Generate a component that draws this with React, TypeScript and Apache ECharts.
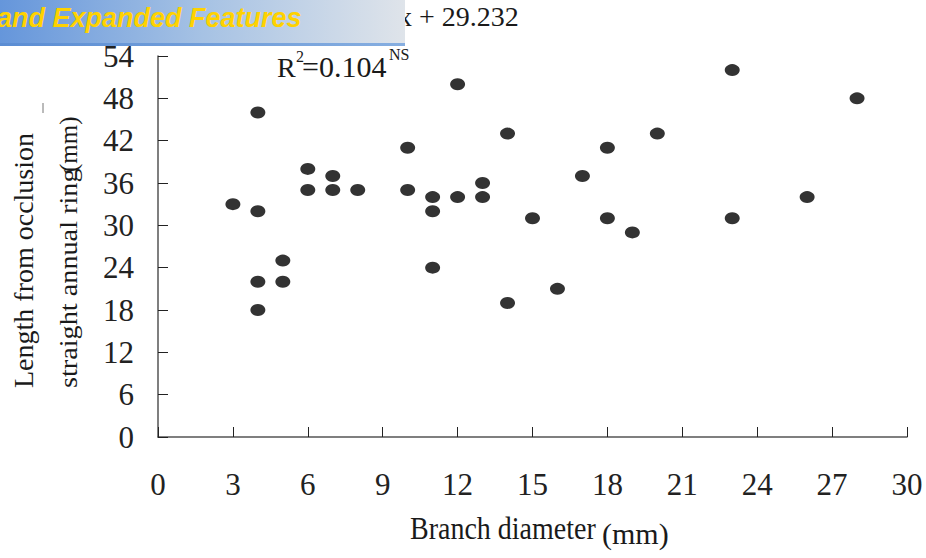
import React, { useEffect, useRef } from "react";
import * as echarts from "echarts";

const branchDiameter = [3, 4, 4, 4, 4, 5, 5, 6, 6, 7, 7, 8, 10, 10, 11, 11, 11, 12, 12, 13, 13, 14, 14, 15, 16, 17, 18, 18, 19, 20, 23, 23, 26, 28];
const occlusionLength = [33, 46, 32, 22, 18, 25, 22, 38, 35, 37, 35, 35, 41, 35, 34, 32, 24, 50, 34, 36, 34, 43, 19, 31, 21, 37, 41, 31, 29, 43, 52, 31, 34, 48];

const xTitle = "Branch diameter";
const unitText = "(mm)";
const yTitleLine1 = "Length from occlusion";
const yTitleLine2 = "straight annual ring";
const equationText = "x + 29.232";
const bannerText = "and Expanded Features";

const SERIF = "Liberation Serif";

function serifText(text: string, size: number, extra: Record<string, unknown> = {}) {
  return {
    text,
    fontFamily: SERIF,
    fontSize: size,
    fill: "#1a1a1a",
    textAlign: "left",
    textVerticalAlign: "bottom",
    ...extra,
  };
}

export default function App() {
  const ref = useRef<HTMLDivElement>(null);
  useEffect(() => {
    if (!ref.current) return;
    const chart = echarts.init(ref.current, null, { renderer: "svg" });
    const points = branchDiameter.map((x, i) => [x, occlusionLength[i]]);
    chart.setOption({
      animation: false,
      backgroundColor: "#ffffff",
      grid: { left: 158, top: 56, width: 749, height: 381 },
      xAxis: {
        type: "value",
        min: 0,
        max: 30,
        interval: 3,
        axisLine: { show: true, lineStyle: { color: "#555", width: 1.5 } },
        axisTick: { show: true, inside: true, length: 10, lineStyle: { color: "#222", width: 1 } },
        splitLine: { show: false },
        axisLabel: { margin: 32, fontFamily: SERIF, fontSize: 31, color: "#222" },
      },
      yAxis: {
        type: "value",
        min: 0,
        max: 54,
        interval: 6,
        axisLine: { show: true, lineStyle: { color: "#555", width: 1.5 } },
        axisTick: { show: true, inside: true, length: 10, lineStyle: { color: "#222", width: 1 } },
        splitLine: { show: false },
        axisLabel: { margin: 24, fontFamily: SERIF, fontSize: 31, color: "#222" },
      },
      series: [
        {
          type: "scatter",
          data: points,
          symbol: "circle",
          symbolSize: [15, 12],
          itemStyle: { color: "#000" },
        },
      ],
      graphic: [
        {
          type: "rect",
          z: 100,
          shape: { x: 0, y: 0, width: 405, height: 46 },
          style: {
            fill: new echarts.graphic.LinearGradient(0, 0, 1, 0, [
              { offset: 0, color: "#6596db" },
              { offset: 0.5, color: "#a6c2e4" },
              { offset: 1, color: "#dfe4ea" },
            ]),
          },
        },
        {
          type: "rect",
          z: 101,
          shape: { x: 0, y: 43, width: 405, height: 3 },
          style: {
            fill: new echarts.graphic.LinearGradient(0, 0, 1, 0, [
              { offset: 0, color: "#5b8dd3" },
              { offset: 1, color: "#86aee0" },
            ]),
          },
        },
        {
          type: "text",
          x: -3,
          y: 18,
          z: 102,
          style: {
            text: bannerText,
            fontFamily: "Liberation Sans",
            fontStyle: "italic",
            fontWeight: "bold",
            fontSize: 27,
            fill: "#ffd200",
            textAlign: "left",
            textVerticalAlign: "middle",
          },
        },
        { type: "text", x: 410, y: 544, z: 10, scaleY: 1.12, style: serifText(xTitle, 28) },
        { type: "text", x: 602, y: 548, z: 10, style: serifText(unitText, 30) },
        {
          type: "text",
          x: 23,
          y: 388,
          z: 10,
          rotation: Math.PI / 2,
          style: serifText(yTitleLine1, 28, { textVerticalAlign: "middle" }),
        },
        {
          type: "line",
          z: 10,
          shape: { x1: 43, y1: 103, x2: 43, y2: 113 },
          style: { stroke: "#777", lineWidth: 1 },
        },
        {
          type: "text",
          x: 69,
          y: 388,
          z: 10,
          rotation: Math.PI / 2,
          scaleX: 1.13,
          style: serifText(yTitleLine2, 25, { textVerticalAlign: "middle" }),
        },
        {
          type: "text",
          x: 68,
          y: 172,
          z: 11,
          rotation: Math.PI / 2,
          style: serifText(unitText, 25, { textVerticalAlign: "middle" }),
        },
        { type: "text", x: 398, y: 30, z: 10, style: serifText(equationText, 28) },
        { type: "text", x: 277, y: 81, z: 10, style: serifText("R", 28, { scaleY: 1 }) },
        { type: "text", x: 296, y: 64, z: 10, style: serifText("2", 16) },
        { type: "text", x: 302, y: 81, z: 10, style: serifText("=0.104", 30) },
        { type: "text", x: 389, y: 62, z: 10, style: serifText("NS", 16) },
      ],
    });
    return () => chart.dispose();
  }, []);
  return <div ref={ref} style={{ position: "absolute", left: 0, top: 0, width: 926, height: 558 }} />;
}
